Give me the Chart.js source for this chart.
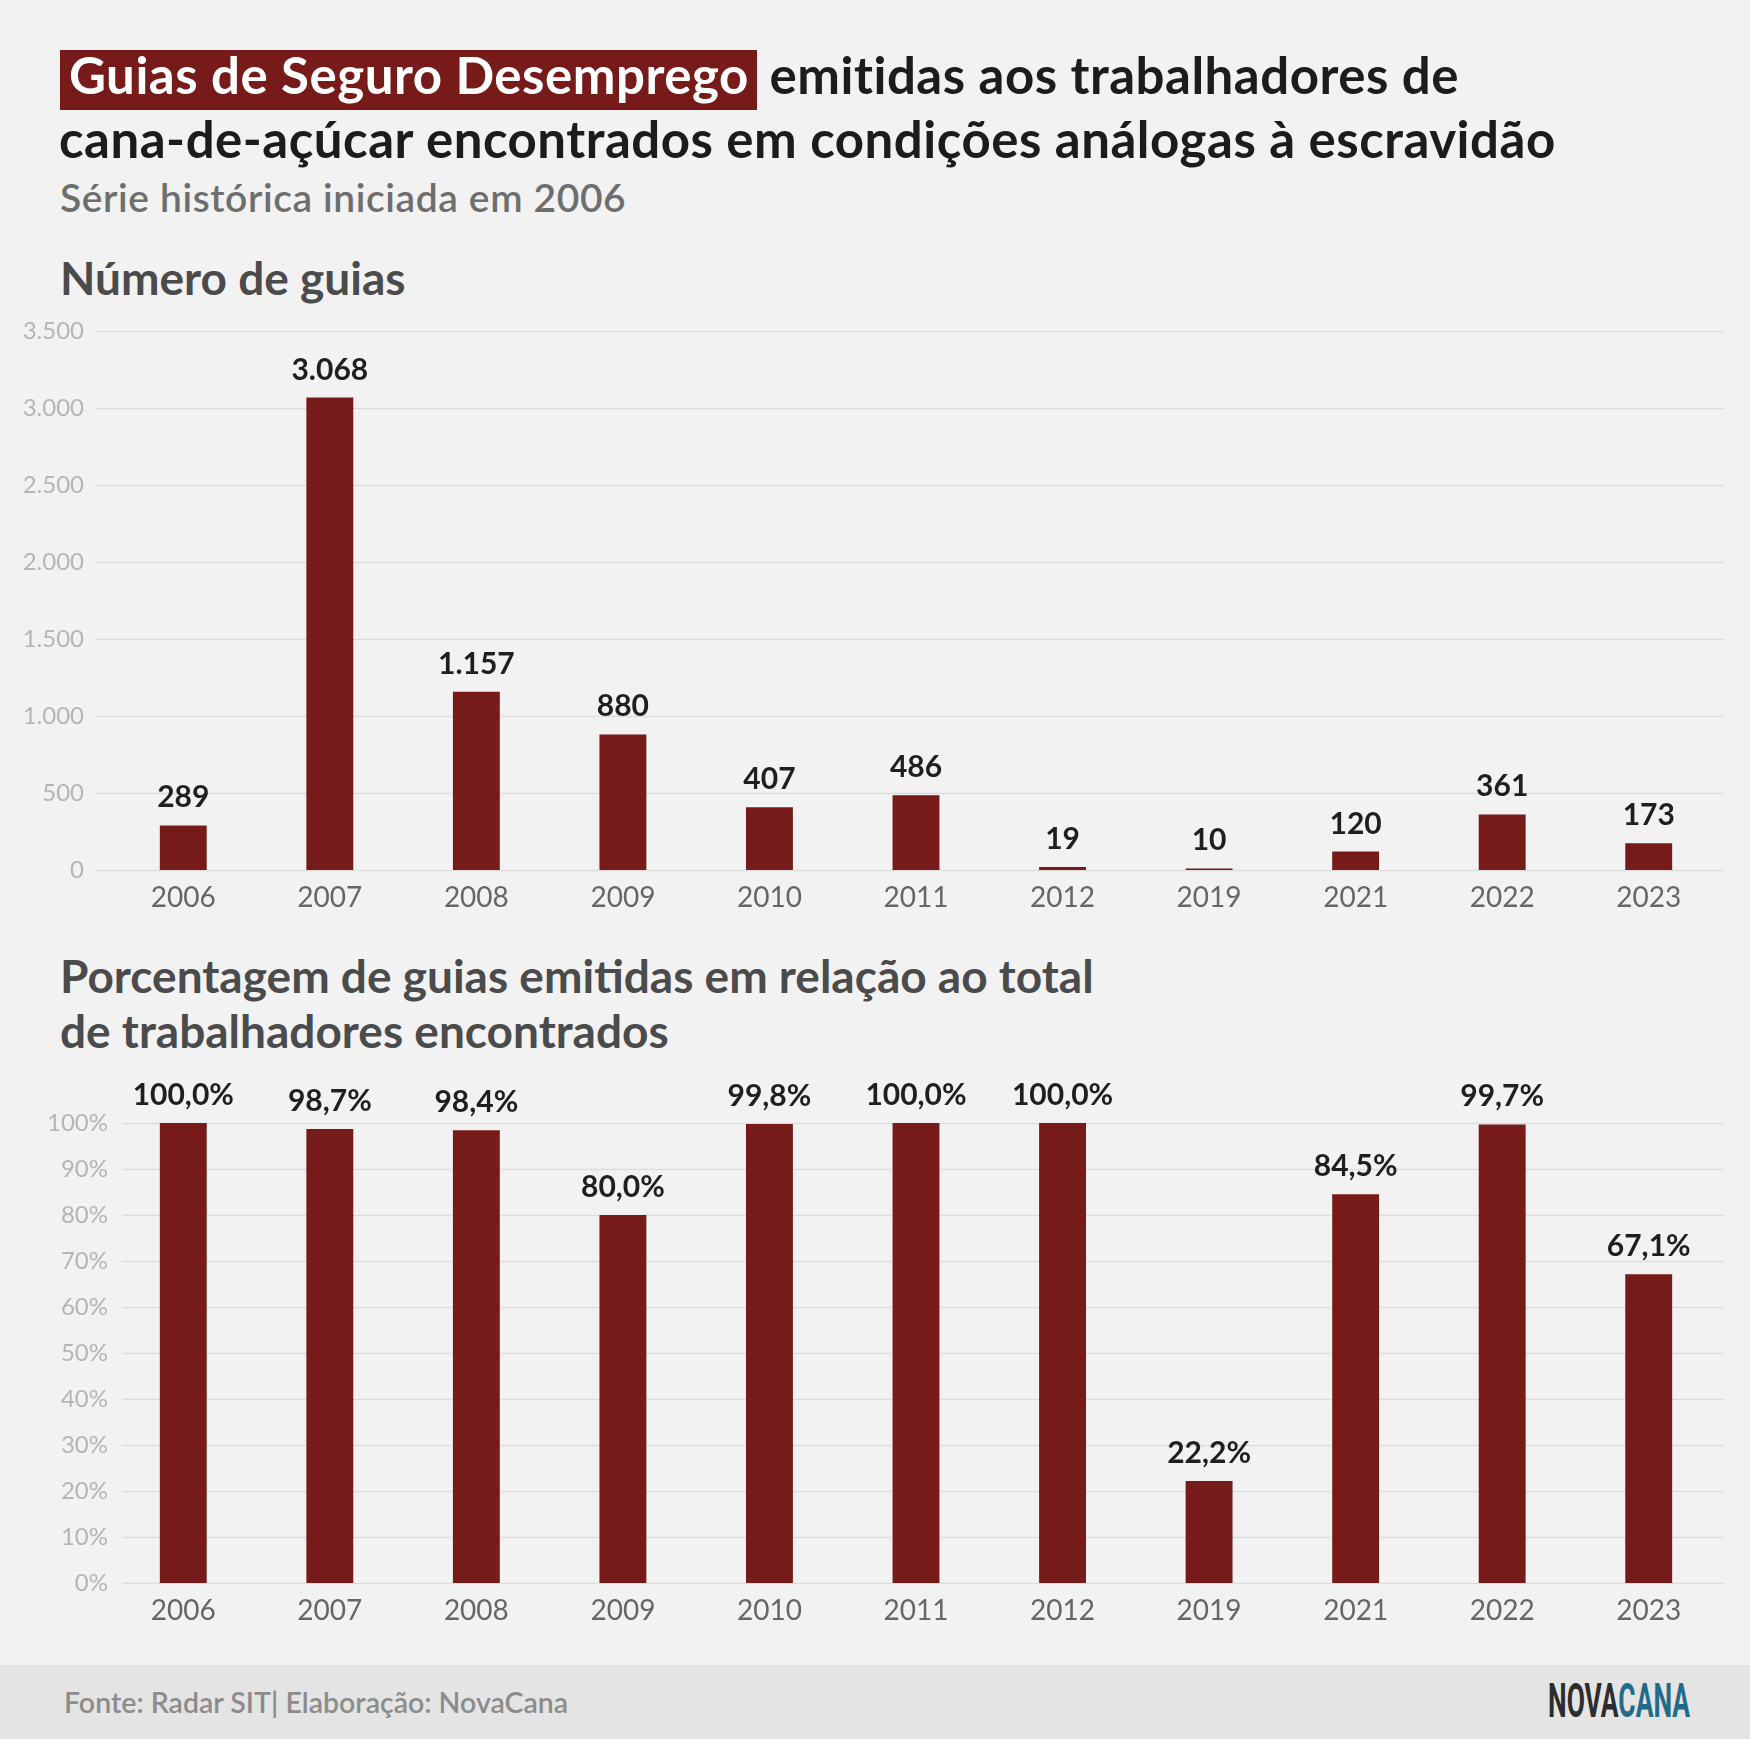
<!DOCTYPE html>
<html lang="pt-BR">
<head>
<meta charset="utf-8">
<title>Guias de Seguro Desemprego</title>
<script src="https://cdn.jsdelivr.net/npm/chart.js@4.4.1/dist/chart.umd.min.js"></script>
<style>
  body { margin: 0; width: 1750px; height: 1739px; background: #f2f2f2; font-family: Lato, sans-serif; position: relative; overflow: hidden; }
  .abs { position: absolute; white-space: nowrap; }
  .titulo { font-weight: 700; font-size: 51px; letter-spacing: 0.5px; color: #1c1c1c; }
  .caixa { display: inline-block; background: #761a1a; color: #fff; padding: 0 8px 9.4px 9px; line-height: 50.6px; }
  .secao { font-weight: 700; font-size: 46px; color: #4b4b4b; }
  canvas { position: absolute; left: 0; }
</style>
</head>
<body>

<div class="abs titulo" style="left:60px; top:45.3px; line-height:60px;"><span class="caixa">Guias de Seguro Desemprego</span> emitidas aos trabalhadores de</div>
<div class="abs titulo" style="left:59px; top:107.7px; line-height:61.2px;">cana-de-açúcar encontrados em condições análogas à escravidão</div>
<div class="abs" style="left:60px; top:173.5px; font-size:39px; letter-spacing:0.6px; font-weight:600; color:#6e6e6e; line-height:46.8px;">Série histórica iniciada em 2006</div>

<div class="abs secao" style="left:60px; top:249.6px; line-height:55.2px;">Número de guias</div>
<canvas id="graficoGuias" width="1750" height="649" style="top:271px"></canvas>

<div class="abs secao" style="left:60px; top:947.7px; line-height:55px;">Porcentagem de guias emitidas em relação ao total<br>de trabalhadores encontrados</div>
<canvas id="graficoPct" width="1750" height="560" style="top:1070px"></canvas>

<div class="abs" style="left:0; top:1665px; width:1750px; height:74px; background:#e4e4e4;"></div>
<div class="abs" style="left:64px; top:1684.9px; font-size:28.5px; font-weight:600; color:#8c8c8c; line-height:34.2px;">Fonte: Radar SIT| Elaboração: NovaCana</div>
<div class="abs" id="logo" style="left:1548px; top:1676.6px; font-family:Roboto, sans-serif; font-weight:700; font-size:48px; line-height:48px; transform-origin:0 0;"><span style="color:#2d2d2d">NOVA</span><span style="color:#226b88">CANA</span></div>

<script>
// dados
const anos = ["2006", "2007", "2008", "2009", "2010", "2011", "2012", "2019", "2021", "2022", "2023"];
const guias = [289, 3068, 1157, 880, 407, 486, 19, 10, 120, 361, 173];
const porcentagem = [100.0, 98.7, 98.4, 80.0, 99.8, 100.0, 100.0, 22.2, 84.5, 99.7, 67.1];
const ticksGuias = [0, 500, 1000, 1500, 2000, 2500, 3000, 3500];
const ticksPct = [0, 10, 20, 30, 40, 50, 60, 70, 80, 90, 100];

const corBarra = "#761a1a";

function milhar(v) {
  return String(v).replace(/\B(?=(\d{3})+(?!\d))/g, ".");
}

// logo com largura fixa
const logo = document.getElementById("logo");
logo.style.transform = "scaleX(" + (142 / logo.getBoundingClientRect().width) + ")";

// linhas de grade e rótulos das barras
const gradePlugin = {
  id: "grade",
  beforeDatasetsDraw(chart, args, opts) {
    const ctx = chart.ctx;
    const y = chart.scales.y;
    ctx.save();
    ctx.strokeStyle = "#dddddd";
    ctx.lineWidth = 1.5;
    y.ticks.forEach(t => {
      const py = Math.round(y.getPixelForValue(t.value)) + 0.5;
      ctx.beginPath();
      ctx.moveTo(opts.x0, py);
      ctx.lineTo(chart.chartArea.right + 2, py);
      ctx.stroke();
    });
    ctx.restore();
  },
  afterDatasetsDraw(chart, args, opts) {
    const ctx = chart.ctx;
    const meta = chart.getDatasetMeta(0);
    const dados = chart.data.datasets[0].data;
    ctx.save();
    ctx.font = "bold 30px Lato";
    ctx.fillStyle = "#1f1f1f";
    ctx.textAlign = "center";
    ctx.textBaseline = "alphabetic";
    meta.data.forEach((bar, i) => {
      ctx.fillText(opts.fmt(dados[i]), bar.x, bar.y - 18);
    });
    ctx.restore();
  }
};

function criarGrafico(id, dados, ticks, maximo, fmtTick, fmtRotulo, x0, padTopo, altX, padY) {
  return new Chart(document.getElementById(id).getContext("2d"), {
    type: "bar",
    data: {
      labels: anos,
      datasets: [{
        data: dados,
        backgroundColor: corBarra,
        barPercentage: 0.32,
        categoryPercentage: 1
      }]
    },
    plugins: [gradePlugin],
    options: {
      responsive: false,
      animation: false,
      layout: { padding: { top: padTopo, right: 28, left: 0, bottom: 0 } },
      plugins: {
        legend: { display: false },
        tooltip: { enabled: false },
        grade: { x0: x0, fmt: fmtRotulo }
      },
      scales: {
        x: {
          grid: { display: false, drawTicks: false },
          border: { display: false },
          ticks: { color: "#666666", font: { family: "Lato", size: 28 }, padding: 11 },
          afterFit: s => { s.height = altX; }
        },
        y: {
          min: 0,
          max: maximo,
          grid: { display: false, drawTicks: false },
          border: { display: false },
          afterBuildTicks: s => { s.ticks = ticks.map(v => ({ value: v })); },
          ticks: { color: "#b5b5b5", font: { family: "Lato", size: 24 }, padding: padY, callback: fmtTick },
          afterFit: s => { s.width = 110; }
        }
      }
    }
  });
}

const chartGuias = criarGrafico("graficoGuias", guias, ticksGuias, 3500,
  v => milhar(v), v => milhar(v), 96, 60, 50, 26);

const chartPct = criarGrafico("graficoPct", porcentagem, ticksPct, 100,
  v => v + "%", v => v.toFixed(1).replace(".", ",") + "%", 122, 53, 47, 2);
</script>
</body>
</html>
